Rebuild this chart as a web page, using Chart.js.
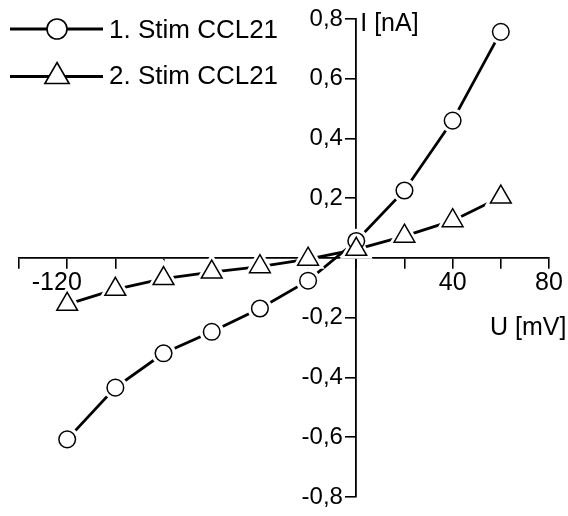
<!DOCTYPE html>
<html>
<head>
<meta charset="utf-8">
<script src="https://cdn.jsdelivr.net/npm/chart.js@4.4.1/dist/chart.umd.min.js"></script>
<style>
  html, body { margin: 0; padding: 0; background: #fff; }
</style>
</head>
<body>
<canvas id="ivChart" width="568" height="516"></canvas>
<script>
// U [mV] steps and measured currents I [nA]
var voltages = [-120, -100, -80, -60, -40, -20, 0, 20, 40, 60];
var stim1 = [-0.607, -0.434, -0.319, -0.247, -0.169, -0.076, 0.057, 0.226, 0.46, 0.757];
var stim2 = [-0.155, -0.105, -0.069, -0.047, -0.029, -0.004, 0.029, 0.073, 0.125, 0.204];
var seriesLabels = ["1. Stim CCL21", "2. Stim CCL21"];
var xTickLabels = [-120, 40, 80];
var yTickLabels = [-0.8, -0.6, -0.4, -0.2, 0.2, 0.4, 0.6, 0.8];

var FONT = '"Liberation Sans", Arial, sans-serif';

function toPoints(values) {
  return voltages.map(function (v, i) {
    return { x: v, y: values[i] };
  });
}

function zeroPadding(scale) {
  scale.paddingLeft = 0;
  scale.paddingRight = 0;
  scale.paddingTop = 0;
  scale.paddingBottom = 0;
}

function drawMarker(ctx, style, x, y, r) {
  ctx.beginPath();
  if (style === "triangle") {
    var a = 0;
    ctx.moveTo(x + Math.sin(a) * r, y - Math.cos(a) * r);
    a += (2 * Math.PI) / 3;
    ctx.lineTo(x + Math.sin(a) * r, y - Math.cos(a) * r);
    a += (2 * Math.PI) / 3;
    ctx.lineTo(x + Math.sin(a) * r, y - Math.cos(a) * r);
    ctx.closePath();
  } else {
    ctx.arc(x, y, r, 0, 2 * Math.PI);
  }
  ctx.fill();
  ctx.stroke();
}

// legend in the top left corner and the two axis titles
var overlayPlugin = {
  id: "overlay",
  afterDraw: function (chart) {
    var ctx = chart.ctx;
    var xs = chart.scales.x;
    var ys = chart.scales.y;
    ctx.save();
    ctx.fillStyle = "#000";
    ctx.textAlign = "left";
    ctx.textBaseline = "alphabetic";
    ctx.font = "25px " + FONT;
    ctx.fillText("I [nA]", xs.getPixelForValue(0) + 4, ys.getPixelForValue(0.8) + 12);
    ctx.fillText("U [mV]", 490, ys.getPixelForValue(0) + 77);

    ctx.font = "26px " + FONT;
    var rows = [
      { ds: chart.data.datasets[2], y: 29, base: 37.5, r: 10 },
      { ds: chart.data.datasets[3], y: 76.5, base: 84, r: 14 },
    ];
    rows.forEach(function (row) {
      ctx.strokeStyle = "#000";
      ctx.lineWidth = 2.8;
      ctx.beginPath();
      ctx.moveTo(10, row.y);
      ctx.lineTo(103, row.y);
      ctx.stroke();
      ctx.fillStyle = "#fff";
      ctx.lineWidth = 1.6;
      drawMarker(ctx, row.ds.pointStyle, 57, row.y, row.r);
      ctx.fillStyle = "#000";
      ctx.fillText(row.ds.label, 109, row.base);
    });
    ctx.restore();
  },
};

var ctx = document.getElementById("ivChart").getContext("2d");
var ivChart = new Chart(ctx, {
  type: "scatter",
  data: {
    datasets: [
      {
        label: seriesLabels[0],
        data: toPoints(stim1),
        showLine: true,
        borderColor: "#000",
        borderWidth: 2.8,
        pointStyle: "circle",
        pointRadius: 8.3,
        pointBackgroundColor: "#fff",
        pointBorderColor: "#fff",
        pointBorderWidth: 8,
        order: 4,
      },
      {
        label: seriesLabels[1],
        data: toPoints(stim2),
        showLine: true,
        borderColor: "#000",
        borderWidth: 2.8,
        pointStyle: "triangle",
        pointRadius: 12,
        pointBackgroundColor: "#fff",
        pointBorderColor: "#fff",
        pointBorderWidth: 7,
        order: 3,
      },
      {
        label: seriesLabels[0],
        data: toPoints(stim1),
        showLine: false,
        pointStyle: "circle",
        pointRadius: 8.3,
        pointBackgroundColor: "#fff",
        pointBorderColor: "#000",
        pointBorderWidth: 1.5,
        order: 2,
      },
      {
        label: seriesLabels[1],
        data: toPoints(stim2),
        showLine: false,
        pointStyle: "triangle",
        pointRadius: 12,
        pointBackgroundColor: "#fff",
        pointBorderColor: "#000",
        pointBorderWidth: 1.5,
        order: 1,
      },
    ],
  },
  options: {
    responsive: false,
    animation: false,
    events: [],
    layout: { padding: { left: 19, right: 14, top: 18, bottom: 9 } },
    plugins: {
      legend: { display: false },
      tooltip: { enabled: false },
    },
    scales: {
      x: {
        type: "linear",
        min: -140,
        max: 80,
        position: { y: 0 },
        ticks: {
          stepSize: 20,
          autoSkip: false,
          maxRotation: 0,
          padding: 0,
          color: "#000",
          font: { family: FONT, size: 25 },
          callback: function (value) {
            var v = Math.round(value);
            if (xTickLabels.indexOf(v) < 0) return "";
            return v < 0 ? v + "   " : String(v);
          },
        },
        grid: { drawOnChartArea: false, tickLength: 10, color: "#000", lineWidth: 1.6 },
        border: { display: true, color: "#000", width: 1.8 },
        afterFit: zeroPadding,
      },
      y: {
        type: "linear",
        min: -0.8,
        max: 0.8,
        position: { x: 0 },
        z: 1,
        ticks: {
          stepSize: 0.2,
          color: "#000",
          font: { family: FONT, size: 24 },
          callback: function (value) {
            var v = Math.round(value * 10) / 10;
            if (yTickLabels.indexOf(v) < 0) return "";
            return v.toFixed(1).replace(".", ",") + "  ";
          },
        },
        grid: { drawOnChartArea: false, tickLength: 10, color: "#000", lineWidth: 1.6 },
        border: { display: true, color: "#000", width: 1.8 },
        afterFit: zeroPadding,
      },
    },
  },
  plugins: [overlayPlugin],
});
</script>
</body>
</html>
